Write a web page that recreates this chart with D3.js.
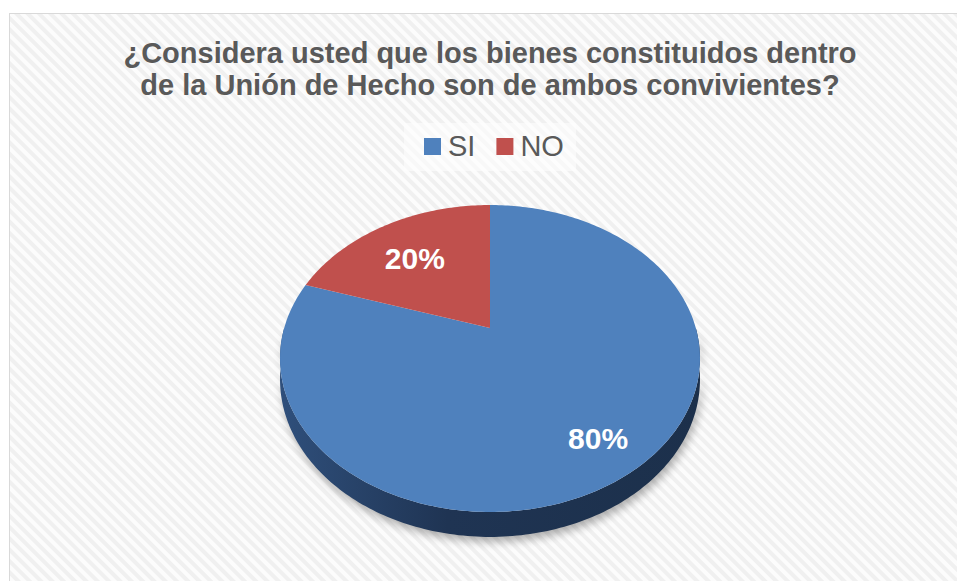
<!DOCTYPE html>
<html>
<head>
<meta charset="utf-8">
<script src="https://cdn.jsdelivr.net/npm/d3@7"></script>
<style>
  body { margin: 0; background: #fff; }
  svg { display: block; }
</style>
</head>
<body>
<script>
// datos
var categories = ["SI", "NO"];
var values = [80, 20];
var titleLines = ["¿Considera usted que los bienes constituidos dentro",
                  "de la Unión de Hecho son de ambos convivientes?"];

var w = 957, h = 581;
var fontFam = "'Liberation Sans', Arial, sans-serif";

var svg = d3.select("body").append("svg").attr("width", w).attr("height", h);
var defs = svg.append("defs");

// fondo rayado
var pat = defs.append("pattern").attr("id", "hatch")
  .attr("width", 8).attr("height", 8)
  .attr("patternUnits", "userSpaceOnUse")
  .attr("patternTransform", "rotate(-45)");
pat.append("rect").attr("width", 8).attr("height", 8).attr("fill", "#fcfcfc");
pat.append("rect").attr("width", 4).attr("height", 8).attr("fill", "#f0f0f0");

var sideGrad = defs.append("linearGradient").attr("id", "sideGrad")
  .attr("gradientUnits", "userSpaceOnUse")
  .attr("x1", 280).attr("x2", 700).attr("y1", 0).attr("y2", 0);
sideGrad.append("stop").attr("offset", "0%").attr("stop-color", "#2f4f7b");
sideGrad.append("stop").attr("offset", "40%").attr("stop-color", "#1f3453");
sideGrad.append("stop").attr("offset", "100%").attr("stop-color", "#1c304b");

var blur = defs.append("filter").attr("id", "blur")
  .attr("x", "-20%").attr("y", "-20%").attr("width", "140%").attr("height", "140%");
blur.append("feGaussianBlur").attr("stdDeviation", 4);

svg.append("rect").attr("x", 9.5).attr("y", 13.5)
  .attr("width", w + 10).attr("height", h + 10)
  .attr("fill", "url(#hatch)").attr("stroke", "#d9d9d9");

// titulo
svg.append("text")
  .attr("text-anchor", "middle")
  .attr("font-family", fontFam).attr("font-weight", "bold")
  .attr("font-size", "29px").attr("fill", "#595959")
  .selectAll("tspan").data(titleLines).enter().append("tspan")
  .attr("x", 490)
  .attr("y", function(d, i) { return 63 + i * 32; })
  .text(function(d) { return d; });

// colores
var color = d3.scaleOrdinal().domain(categories).range(["#4f81bd", "#c0504d"]);

// leyenda
svg.append("rect").attr("x", 404).attr("y", 123).attr("width", 172).attr("height", 48)
  .attr("fill", "#fdfdfd").attr("opacity", 0.6);
var lx = 424;
categories.forEach(function(c) {
  svg.append("rect").attr("x", lx).attr("y", 138).attr("width", 17).attr("height", 17)
    .attr("fill", color(c));
  var t = svg.append("text").attr("x", lx + 24).attr("y", 156)
    .attr("font-family", fontFam).attr("font-size", "29px").attr("fill", "#595959")
    .text(c);
  lx += 24 + t.node().getComputedTextLength() + 21;
});

// pastel 3D con perspectiva
var cx = 490, cy = 328;
var k = -0.1987, a = 205.8, b = 147.4, depth = 20;

function proj(theta, r) {
  var u = r * Math.sin(theta), v = -r * Math.cos(theta);
  var q = 1 + k * v;
  return [cx + a * u / q, cy + b * v / q];
}
function projDown(theta) {
  var v = -Math.cos(theta);
  var p = proj(theta, 1);
  return [p[0], p[1] + depth / (1 + k * v)];
}

var pie = d3.pie().sort(null).value(function(d) { return d; });
var arcs = pie(values);

var line = d3.line();

// lado visible (frente)
var frontTop = d3.range(90, 270.5, 1).map(function(d) { return d * Math.PI / 180; });
var sidePts = frontTop.map(function(t) { return proj(t, 1); })
  .concat(frontTop.slice().reverse().map(projDown));

// sombra
svg.append("path")
  .attr("d", line(sidePts) + "Z")
  .attr("transform", "translate(2,5)")
  .attr("fill", "#000").attr("opacity", 0.3)
  .attr("filter", "url(#blur)");

svg.append("path")
  .attr("d", line(sidePts) + "Z")
  .attr("fill", "url(#sideGrad)");

// caras superiores
svg.selectAll("path.slice")
  .data(arcs)
  .enter()
  .append("path")
  .attr("class", "slice")
  .attr("d", function(d) {
    var n = Math.max(2, Math.ceil((d.endAngle - d.startAngle) * 180 / Math.PI));
    var pts = [proj(0, 0)];
    d3.range(n + 1).forEach(function(i) {
      pts.push(proj(d.startAngle + (d.endAngle - d.startAngle) * i / n, 1));
    });
    return line(pts) + "Z";
  })
  .attr("fill", function(d, i) { return color(categories[i]); });

// etiquetas
var labelR = [0.8, 0.66];
svg.selectAll("text.lbl")
  .data(arcs)
  .enter()
  .append("text")
  .attr("class", "lbl")
  .attr("x", function(d, i) { return proj((d.startAngle + d.endAngle) / 2, labelR[i])[0] - 3; })
  .attr("y", function(d, i) { return proj((d.startAngle + d.endAngle) / 2, labelR[i])[1] + 12; })
  .attr("text-anchor", "middle")
  .attr("font-family", fontFam).attr("font-weight", "bold")
  .attr("font-size", "30px").attr("fill", "#fff")
  .text(function(d) { return d3.format(".0%")(d.value / d3.sum(values)); });
</script>
</body>
</html>
